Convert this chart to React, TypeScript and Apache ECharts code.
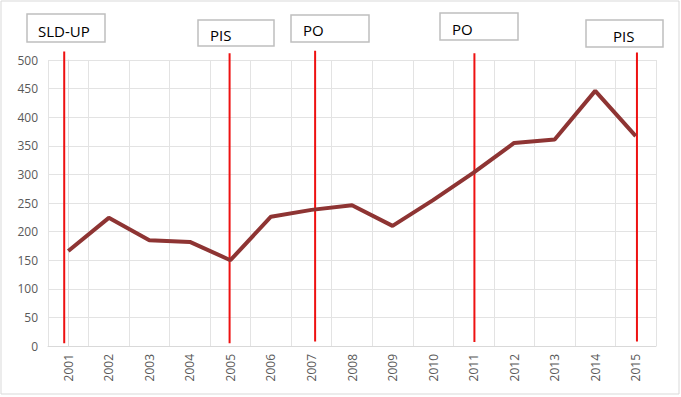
import React, { useEffect, useRef } from "react";
import * as echarts from "echarts";

const years = ["2001","2002","2003","2004","2005","2006","2007","2008","2009","2010","2011","2012","2013","2014","2015"];
const values = [166, 224, 185, 182, 150, 226, 238, 246, 210, 255, 303, 355, 361, 446, 367];
const yTicks = [0, 50, 100, 150, 200, 250, 300, 350, 400, 450, 500];
// marker lines: position along the category index, top and bottom value
const markerPos = [-0.1, 3.98, 6.09, 10.02, 14.03];
const markerTop = [515, 512, 516, 512, 513];
const markerBottom = [5, 5, 8, 7, 8];
const markerLabels = ["SLD-UP", "PIS", "PO", "PO", "PIS"];

export default function App() {
  const ref = useRef<HTMLDivElement>(null);
  useEffect(() => {
    if (!ref.current) return;
    const chart = echarts.init(ref.current, null, { renderer: "svg" });
    const font = "'Open Sans', 'Liberation Sans', sans-serif";
    const boxes = [
      { x: 27, y: 14, w: 78, h: 28, tx: 38, ty: 31 },
      { x: 198, y: 20, w: 76, h: 26, tx: 210, ty: 35 },
      { x: 291, y: 15, w: 78, h: 27, tx: 303, ty: 30 },
      { x: 440, y: 13, w: 78, h: 27, tx: 452, ty: 29 },
      { x: 586, y: 20, w: 77, h: 27, tx: 613, ty: 36 },
    ];
    const graphic: any[] = [
      { type: "rect", shape: { x: 1, y: 1, width: 678, height: 393 }, style: { fill: "none", stroke: "#d9d9d9", lineWidth: 1 }, silent: true },
    ];
    boxes.forEach((b, i) => {
      graphic.push({ type: "rect", shape: { x: b.x, y: b.y, width: b.w, height: b.h }, style: { fill: "#fff", stroke: "#bfbfbf", lineWidth: 1.5 }, z: 10 });
      graphic.push({ type: "text", x: b.tx, y: b.ty, style: { text: markerLabels[i], fill: "#000", font: `15px ${font}`, textVerticalAlign: "middle" }, z: 11 });
    });
    const markerSeries = markerPos.map((p, i) => ({
      type: "line",
      xAxisIndex: 1,
      data: [[p, markerBottom[i]], [p, markerTop[i]]],
      symbol: "none",
      clip: false,
      lineStyle: { color: "#ee1111", width: 2 },
      z: 3,
    }));
    chart.setOption({
      animation: false,
      backgroundColor: "#fff",
      grid: { left: 48, right: 25, top: 60, bottom: 51 },
      xAxis: [
        {
          type: "category",
          data: years,
          boundaryGap: true,
          axisLine: { lineStyle: { color: "#d9d9d9" } },
          axisTick: { show: false },
          axisLabel: { rotate: 90, color: "#595959", fontSize: 12, fontFamily: font, margin: 8, interval: 0 },
          splitLine: { show: true, lineStyle: { color: "#e3e3e3" } },
        },
        { type: "value", min: -0.5, max: 14.5, show: false },
      ],
      yAxis: {
        type: "value",
        min: 0,
        max: 500,
        interval: 50,
        axisLine: { show: true, lineStyle: { color: "#d9d9d9" } },
        axisTick: { show: false },
        axisLabel: { color: "#595959", fontSize: 12, fontFamily: font, margin: 10, formatter: (v: number) => (yTicks.includes(v) ? String(v) : "") },
        splitLine: { lineStyle: { color: "#e3e3e3" } },
      },
      series: [
        {
          type: "line",
          data: values,
          symbol: "none",
          lineStyle: { color: "#8e3433", width: 4 },
          z: 4,
        },
        ...markerSeries,
      ],
      graphic,
    });
    return () => chart.dispose();
  }, []);
  return <div ref={ref} style={{ width: 681, height: 397, position: "absolute", left: 0, top: 0 }} />;
}
